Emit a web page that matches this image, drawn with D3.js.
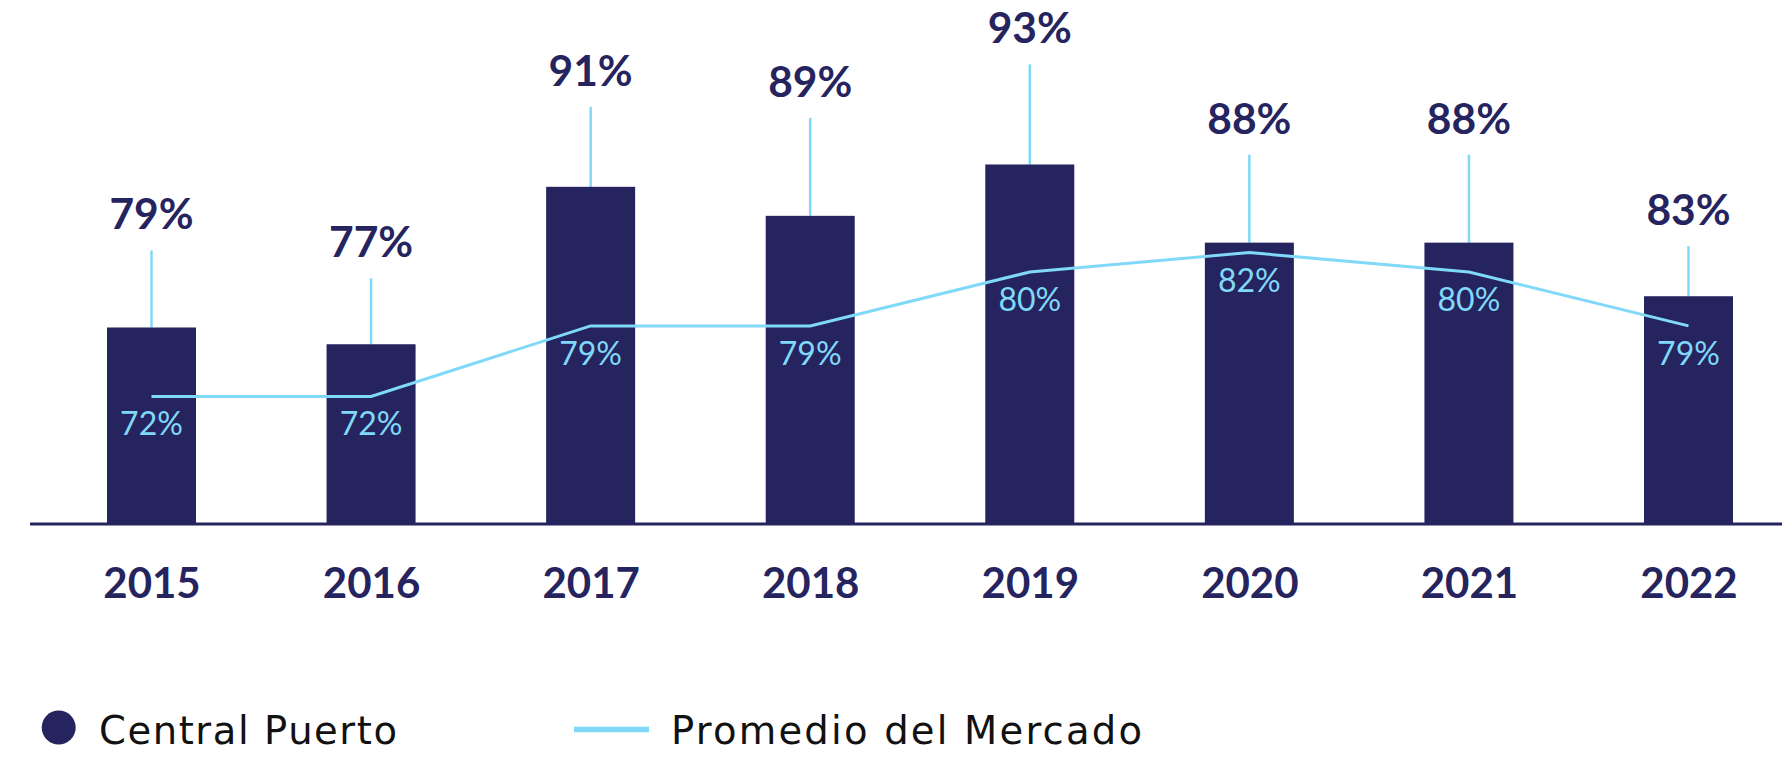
<!DOCTYPE html>
<html>
<head>
<meta charset="utf-8">
<script src="https://cdn.jsdelivr.net/npm/d3@7"></script>
<style>
  html, body { margin: 0; padding: 0; background: #ffffff; }
  svg { display: block; }
</style>
</head>
<body>
<svg id="chart" width="1782" height="760"></svg>
<script>
// ---- Data ----
const years = ["2015", "2016", "2017", "2018", "2019", "2020", "2021", "2022"];
// Central Puerto availability (bar heights)
const centralPuerto = [79.3, 77.8, 91.9, 89.3, 93.9, 86.9, 86.9, 82.1];
const centralPuertoLabels = ["79%", "77%", "91%", "89%", "93%", "88%", "88%", "83%"];
// Market average (line points)
const promedioMercado = [72.4, 72.4, 77.5, 77.5, 81.4, 82.8, 81.4, 77.5];
const promedioMercadoLabels = ["72%", "72%", "79%", "79%", "80%", "82%", "80%", "79%"];
const seriesNames = ["Central Puerto", "Promedio del Mercado"];

// ---- Layout / style ----
const NAVY = "#25245f";
const SKY = "#80d9f8";
const FONT = "Lato, 'Open Sans', sans-serif";
const LEGEND_FONT = "'DejaVu Sans', Lato, sans-serif";
const baseY = 524;
const barW = 89;
const leaderLen = [77, 66, 80, 98, 100, 88, 88, 50];

const svg = d3.select("#chart");

const x = d3.scalePoint().domain(years).range([151.5, 1688.5]);
const yBar = d3.scaleLinear().domain([61.7, 95]).range([baseY, 152.2]);
const yLine = d3.scaleLinear().domain([60, 90]).range([568, 153]);

const data = years.map((yr, i) => ({
  year: yr, cp: centralPuerto[i], cpLabel: centralPuertoLabels[i],
  pm: promedioMercado[i], pmLabel: promedioMercadoLabels[i], lead: leaderLen[i]
}));

// Leader lines from bar tops to labels
svg.append("g").selectAll("line").data(data).join("line")
  .attr("x1", d => x(d.year)).attr("x2", d => x(d.year))
  .attr("y1", d => yBar(d.cp)).attr("y2", d => yBar(d.cp) - d.lead)
  .attr("stroke", SKY).attr("stroke-width", 2.5);

// Bars
svg.append("g").selectAll("rect").data(data).join("rect")
  .attr("x", d => x(d.year) - barW / 2)
  .attr("width", barW)
  .attr("y", d => yBar(d.cp))
  .attr("height", d => baseY - yBar(d.cp))
  .attr("fill", NAVY);

// Bar value labels
svg.append("g").selectAll("text").data(data).join("text")
  .attr("x", d => x(d.year))
  .attr("y", d => yBar(d.cp) - d.lead - 21)
  .attr("text-anchor", "middle")
  .attr("font-family", FONT).attr("font-weight", 700).attr("font-size", 42.5)
  .attr("fill", NAVY)
  .text(d => d.cpLabel);

// Baseline
svg.append("line")
  .attr("x1", 30).attr("x2", 1782).attr("y1", baseY).attr("y2", baseY)
  .attr("stroke", NAVY).attr("stroke-width", 3);

// Market average line
const line = d3.line().x(d => x(d.year)).y(d => yLine(d.pm));
svg.append("path").datum(data)
  .attr("d", line)
  .attr("fill", "none").attr("stroke", SKY).attr("stroke-width", 3)
  .attr("stroke-linejoin", "miter");

// Line labels
svg.append("g").selectAll("text").data(data).join("text")
  .attr("x", d => x(d.year))
  .attr("y", d => yLine(d.pm) + 39)
  .attr("text-anchor", "middle")
  .attr("font-family", FONT).attr("font-weight", 400).attr("font-size", 32)
  .attr("fill", SKY)
  .text(d => d.pmLabel);

// X axis (year labels)
const xAxis = svg.append("g")
  .attr("transform", `translate(0,${baseY})`)
  .call(d3.axisBottom(x).tickSize(0).tickPadding(0));
xAxis.select(".domain").remove();
xAxis.selectAll("text")
  .attr("y", 74).attr("dy", 0)
  .attr("font-family", FONT).attr("font-weight", 700).attr("font-size", 42)
  .attr("fill", NAVY);

// Legend
const legend = svg.append("g");
legend.append("circle").attr("cx", 58.7).attr("cy", 727.5).attr("r", 17).attr("fill", NAVY);
legend.append("text").attr("x", 99).attr("y", 744)
  .attr("font-family", LEGEND_FONT).attr("font-weight", 400).attr("font-size", 38.5)
  .attr("textLength", 298).attr("lengthAdjust", "spacing")
  .attr("fill", "#111").text(seriesNames[0]);
legend.append("line").attr("x1", 574).attr("x2", 649).attr("y1", 729.5).attr("y2", 729.5)
  .attr("stroke", SKY).attr("stroke-width", 5.5);
legend.append("text").attr("x", 671).attr("y", 744)
  .attr("font-family", LEGEND_FONT).attr("font-weight", 400).attr("font-size", 38.5)
  .attr("textLength", 471).attr("lengthAdjust", "spacing")
  .attr("fill", "#111").text(seriesNames[1]);
</script>
</body>
</html>
